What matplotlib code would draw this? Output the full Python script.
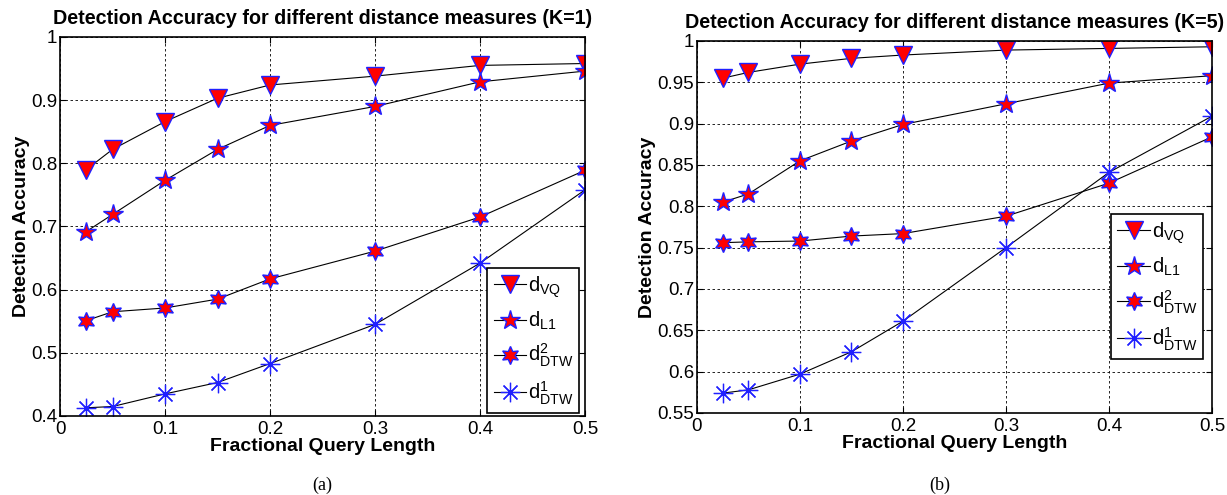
import numpy as np
import matplotlib
matplotlib.use("Agg")
import matplotlib.pyplot as plt

plt.rcParams['font.family'] = ['Liberation Sans', 'DejaVu Sans']
plt.rcParams['mathtext.fontset'] = 'custom'
plt.rcParams['mathtext.rm'] = 'Liberation Sans'
plt.rcParams['mathtext.it'] = 'Liberation Sans'

frac = [0.025, 0.05, 0.1, 0.15, 0.2, 0.3, 0.4, 0.5]

# K=1
k1_vq = [0.790, 0.822, 0.866, 0.903, 0.924, 0.938, 0.955, 0.958]
k1_l1 = [0.692, 0.719, 0.773, 0.822, 0.860, 0.890, 0.929, 0.946]
k1_dtw2 = [0.551, 0.565, 0.571, 0.585, 0.617, 0.661, 0.715, 0.789]
k1_dtw1 = [0.413, 0.415, 0.435, 0.453, 0.483, 0.545, 0.642, 0.758]

# K=5
k5_vq = [0.955, 0.962, 0.972, 0.979, 0.983, 0.989, 0.991, 0.993]
k5_l1 = [0.805, 0.815, 0.855, 0.879, 0.899, 0.924, 0.949, 0.958]
k5_dtw2 = [0.756, 0.757, 0.758, 0.764, 0.767, 0.788, 0.828, 0.884]
k5_dtw1 = [0.574, 0.578, 0.597, 0.624, 0.661, 0.750, 0.841, 0.909]

labels = [r'$\mathrm{d_{VQ}}$', r'$\mathrm{d_{L1}}$',
          r'$\mathrm{d^2_{DTW}}$', r'$\mathrm{d^1_{DTW}}$']
xticks = [0, 0.1, 0.2, 0.3, 0.4, 0.5]
xtick_labels = ['0', '0.1', '0.2', '0.3', '0.4', '0.5']

fig = plt.figure(figsize=(12.27, 4.95), dpi=100)
ax1 = fig.add_axes([0.0489, 0.1596, 0.4279, 0.7657])
ax2 = fig.add_axes([0.568, 0.1657, 0.4197, 0.7515])


def draw(ax, series, title, ylim, yticks, ytick_labels, leg_anchor):
    styles = [
        dict(marker='v', ms=13, mfc='red', mec='#2020ff', mew=1.0),
        dict(marker='*', ms=15, mfc='red', mec='#2020ff', mew=1.0),
        dict(marker=(6, 1, 0), ms=13, mfc='red', mec='#2020ff', mew=1.0),
        dict(marker=(8, 2, 0), ms=14, mfc='none', mec='#2020ff', mew=0.9),
    ]
    for ys, st, lab in zip(series, styles, labels):
        ax.plot(frac, ys, color='black', lw=0.8, label=lab, **st)
    ax.set_xlim(0, 0.5)
    ax.set_ylim(*ylim)
    ax.set_xticks(xticks)
    ax.set_xticklabels(xtick_labels)
    ax.set_yticks(yticks)
    ax.set_yticklabels(ytick_labels)
    ax.grid(True, color='black', ls=(0, (3, 3)), lw=0.6)
    ax.tick_params(direction='in', top=True, right=True, labelsize=13.5,
                   length=4, pad=2)
    ax.tick_params(axis='x', pad=3.5)
    for s in ax.spines.values():
        s.set_linewidth(1.2)
    ax.set_title(title, fontsize=14.2, fontweight='bold', pad=9.5)
    ax.set_xlabel('Fractional Query Length', fontsize=14, fontweight='bold',
                  labelpad=0)
    ax.set_ylabel('Detection Accuracy', fontsize=14, fontweight='bold',
                  labelpad=1)
    leg = ax.legend(loc='lower right', bbox_to_anchor=leg_anchor,
                    fontsize=14.5, fancybox=False, framealpha=1,
                    edgecolor='black', handlelength=1.6, handletextpad=0.1,
                    borderpad=0.3, labelspacing=0.5, borderaxespad=0)
    leg.get_frame().set_linewidth(1.2)


draw(ax1, [k1_vq, k1_l1, k1_dtw2, k1_dtw1],
     'Detection Accuracy for different distance measures (K=1)',
     (0.4, 1.0), [0.4, 0.5, 0.6, 0.7, 0.8, 0.9, 1.0],
     ['0.4', '0.5', '0.6', '0.7', '0.8', '0.9', '1'], (0.989, 0.008))
draw(ax2, [k5_vq, k5_l1, k5_dtw2, k5_dtw1],
     'Detection Accuracy for different distance measures (K=5)',
     (0.55, 1.0), [0.55, 0.6, 0.65, 0.7, 0.75, 0.8, 0.85, 0.9, 0.95, 1.0],
     ['0.55', '0.6', '0.65', '0.7', '0.75', '0.8', '0.85', '0.9', '0.95', '1'],
     (0.983, 0.145))

fig.text(322 / 1227, 1 - 485 / 495, '(a)', family='Liberation Serif',
         fontsize=13, ha='center', va='center')
fig.text(940 / 1227, 1 - 485 / 495, '(b)', family='Liberation Serif',
         fontsize=13, ha='center', va='center')

fig.savefig('out.png', dpi=100)
